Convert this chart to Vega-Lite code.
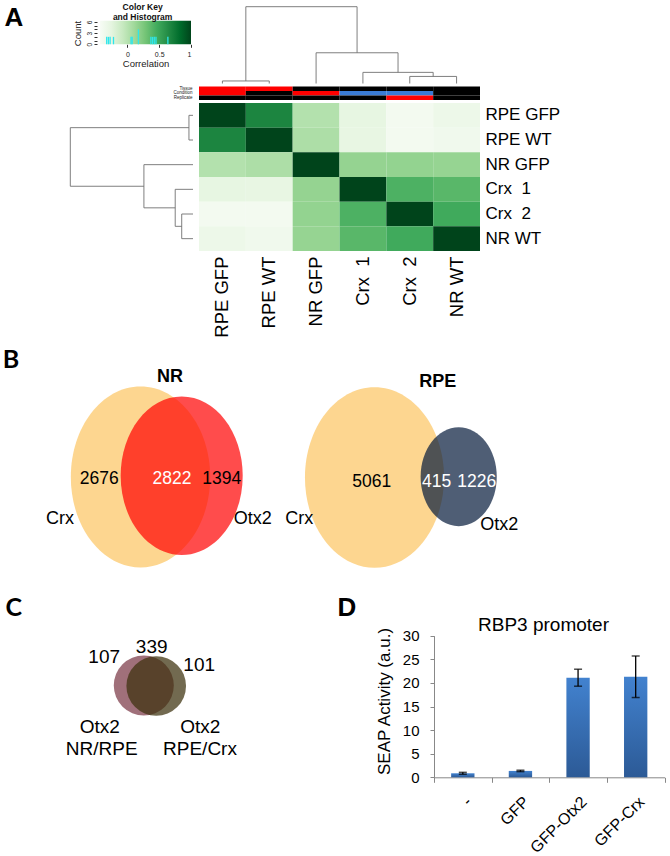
{
  "$schema": "https://vega.github.io/schema/vega-lite/v6.json",
  "width": 670,
  "height": 856,
  "autosize": "none",
  "padding": 0,
  "background": "white",
  "config": {
    "view": {"stroke": null},
    "font": "Liberation Sans",
    "axis": {"grid": false, "labelFont": "Liberation Sans", "titleFont": "Liberation Sans", "labelColor": "black", "titleColor": "black", "titleFontWeight": "normal"}
  },
  "datasets": {
    "heat": [
      {"s1":"RPE GFP","s2":"RPE GFP","corr":1},{"s1":"RPE GFP","s2":"RPE WT","corr":0.68},{"s1":"RPE GFP","s2":"NR GFP","corr":0.02},{"s1":"RPE GFP","s2":"Crx\u00a0\u00a01","corr":-0.27},{"s1":"RPE GFP","s2":"Crx\u00a0\u00a02","corr":-0.39},{"s1":"RPE GFP","s2":"NR WT","corr":-0.33},
      {"s1":"RPE WT","s2":"RPE GFP","corr":0.68},{"s1":"RPE WT","s2":"RPE WT","corr":1},{"s1":"RPE WT","s2":"NR GFP","corr":0.05},{"s1":"RPE WT","s2":"Crx\u00a0\u00a01","corr":-0.28},{"s1":"RPE WT","s2":"Crx\u00a0\u00a02","corr":-0.39},{"s1":"RPE WT","s2":"NR WT","corr":-0.36},
      {"s1":"NR GFP","s2":"RPE GFP","corr":0.02},{"s1":"NR GFP","s2":"RPE WT","corr":0.05},{"s1":"NR GFP","s2":"NR GFP","corr":1},{"s1":"NR GFP","s2":"Crx\u00a0\u00a01","corr":0.155},{"s1":"NR GFP","s2":"Crx\u00a0\u00a02","corr":0.16},{"s1":"NR GFP","s2":"NR WT","corr":0.15},
      {"s1":"Crx\u00a0\u00a01","s2":"RPE GFP","corr":-0.27},{"s1":"Crx\u00a0\u00a01","s2":"RPE WT","corr":-0.28},{"s1":"Crx\u00a0\u00a01","s2":"NR GFP","corr":0.155},{"s1":"Crx\u00a0\u00a01","s2":"Crx\u00a0\u00a01","corr":1},{"s1":"Crx\u00a0\u00a01","s2":"Crx\u00a0\u00a02","corr":0.42},{"s1":"Crx\u00a0\u00a01","s2":"NR WT","corr":0.38},
      {"s1":"Crx\u00a0\u00a02","s2":"RPE GFP","corr":-0.39},{"s1":"Crx\u00a0\u00a02","s2":"RPE WT","corr":-0.39},{"s1":"Crx\u00a0\u00a02","s2":"NR GFP","corr":0.16},{"s1":"Crx\u00a0\u00a02","s2":"Crx\u00a0\u00a01","corr":0.42},{"s1":"Crx\u00a0\u00a02","s2":"Crx\u00a0\u00a02","corr":1},{"s1":"Crx\u00a0\u00a02","s2":"NR WT","corr":0.47},
      {"s1":"NR WT","s2":"RPE GFP","corr":-0.33},{"s1":"NR WT","s2":"RPE WT","corr":-0.36},{"s1":"NR WT","s2":"NR GFP","corr":0.15},{"s1":"NR WT","s2":"Crx\u00a0\u00a01","corr":0.38},{"s1":"NR WT","s2":"Crx\u00a0\u00a02","corr":0.47},{"s1":"NR WT","s2":"NR WT","corr":1}
    ],
    "tracks": [
      {"sample":"RPE GFP","track":"Tissue","level":"RPE"},{"sample":"RPE WT","track":"Tissue","level":"RPE"},{"sample":"NR GFP","track":"Tissue","level":"NR"},{"sample":"Crx\u00a0\u00a01","track":"Tissue","level":"NR"},{"sample":"Crx\u00a0\u00a02","track":"Tissue","level":"NR"},{"sample":"NR WT","track":"Tissue","level":"NR"},
      {"sample":"RPE GFP","track":"Condition","level":"GFP"},{"sample":"RPE WT","track":"Condition","level":"WT"},{"sample":"NR GFP","track":"Condition","level":"GFP"},{"sample":"Crx\u00a0\u00a01","track":"Condition","level":"Crx"},{"sample":"Crx\u00a0\u00a02","track":"Condition","level":"Crx"},{"sample":"NR WT","track":"Condition","level":"WT"},
      {"sample":"RPE GFP","track":"Replicate","level":"rep1"},{"sample":"RPE WT","track":"Replicate","level":"rep1"},{"sample":"NR GFP","track":"Replicate","level":"rep1"},{"sample":"Crx\u00a0\u00a01","track":"Replicate","level":"rep1"},{"sample":"Crx\u00a0\u00a02","track":"Replicate","level":"rep2"},{"sample":"NR WT","track":"Replicate","level":"rep1"}
    ],
    "dendro": [
      {"pos":0,"pos2":0,"h":0,"h2":0.033},{"pos":1,"pos2":1,"h":0,"h2":0.033},{"pos":0,"pos2":1,"h":0.033,"h2":0.033},
      {"pos":4,"pos2":4,"h":0,"h2":0.092},{"pos":5,"pos2":5,"h":0,"h2":0.092},{"pos":4,"pos2":5,"h":0.092,"h2":0.092},
      {"pos":3,"pos2":3,"h":0,"h2":0.145},{"pos":4.5,"pos2":4.5,"h":0.092,"h2":0.145},{"pos":3,"pos2":4.5,"h":0.145,"h2":0.145},
      {"pos":2,"pos2":2,"h":0,"h2":0.4},{"pos":3.75,"pos2":3.75,"h":0.145,"h2":0.4},{"pos":2,"pos2":3.75,"h":0.4,"h2":0.4},
      {"pos":0.5,"pos2":0.5,"h":0.033,"h2":1},{"pos":2.875,"pos2":2.875,"h":0.4,"h2":1},{"pos":0.5,"pos2":2.875,"h":1,"h2":1}
    ],
    "keybox": [{"lo":-0.43,"hi":1,"n0":0,"n1":6.35}],
    "hist": [
      {"corr":-0.4,"n":2},{"corr":-0.37,"n":2},{"corr":-0.34,"n":2},{"corr":-0.28,"n":2},{"corr":0.03,"n":2},{"corr":0.05,"n":2},{"corr":0.16,"n":4},{"corr":0.38,"n":2},{"corr":0.41,"n":2},{"corr":0.44,"n":2},{"corr":0.47,"n":2},{"corr":0.68,"n":2}
    ],
    "keytitle": [{"t":"Color Key","corr":0.24,"n":10.0},{"t":"and Histogram","corr":0.24,"n":7.3}],
    "vennB": [
      {"set":"Crx NR","count":5498,"bx":0.2702,"by":0.5654},
      {"set":"Otx2 NR","count":4216,"bx":0.3494,"by":0.5608},
      {"set":"Crx RPE","count":5476,"bx":0.7202,"by":0.5673},
      {"set":"Otx2 RPE","count":1641,"bx":0.8821,"by":0.5642}
    ],
    "textB": [
      {"label":"2676","bx":0.191,"by":0.574,"tone":"onLight"},
      {"label":"2822","bx":0.3308,"by":0.574,"tone":"onDark"},
      {"label":"1394","bx":0.4263,"by":0.574,"tone":"onLight"},
      {"label":"5061","bx":0.7148,"by":0.5858,"tone":"onLight"},
      {"label":"415","bx":0.8398,"by":0.5858,"tone":"onDark"},
      {"label":"1226","bx":0.9167,"by":0.5858,"tone":"onDark"}
    ],
    "namesB": [
      {"label":"Crx","bx":0.1154,"by":0.727},
      {"label":"Otx2","bx":0.486,"by":0.727},
      {"label":"Crx","bx":0.5756,"by":0.727},
      {"label":"Otx2","bx":0.9602,"by":0.749}
    ],
    "titleB": [{"label":"NR","bx":0.3269,"by":0.1796},{"label":"RPE","bx":0.8417,"by":0.1988}],
    "vennC": [
      {"set":"Otx2 NR/RPE","count":446,"cx":0.4793,"cy":0.359},
      {"set":"Otx2 RPE/Crx","count":440,"cx":0.5207,"cy":0.3609}
    ],
    "textC": [
      {"label":"107","cx":0.3473,"cy":0.2531},
      {"label":"339","cx":0.5057,"cy":0.213},
      {"label":"101","cx":0.664,"cy":0.282},
      {"label":"Otx2","cx":0.3323,"cy":0.5139},
      {"label":"NR/RPE","cx":0.339,"cy":0.5977},
      {"label":"Otx2","cx":0.6677,"cy":0.5139},
      {"label":"RPE/Crx","cx":0.6667,"cy":0.5977}
    ],
    "seap": [
      {"treat":"-","mean":0.85,"lo":0.65,"hi":1.05},
      {"treat":"GFP","mean":1.35,"lo":1.2,"hi":1.5},
      {"treat":"GFP-Otx2","mean":21.1,"lo":19.3,"hi":22.9},
      {"treat":"GFP-Crx","mean":21.3,"lo":16.9,"hi":25.7}
    ],
    "lettersA": [{"letter":"A","fx":0.0206,"fy":0.0214},{"letter":"D","fx":0.5179,"fy":0.7097}],
    "lettersB": [{"letter":"B","fx":0.0164,"fy":0.4211},{"letter":"C","fx":0.0204,"fy":0.7103}]
  },
  "layer": [
    {
      "data": {"name": "keybox"},
      "mark": {"type": "rect", "fill": {"gradient": "linear", "x1": 0, "y1": 0, "x2": 1, "y2": 0, "stops": [{"offset":0,"color":"#f7fcf5"},{"offset":0.125,"color":"#e5f5e0"},{"offset":0.25,"color":"#c7e9c0"},{"offset":0.375,"color":"#a1d99b"},{"offset":0.5,"color":"#74c476"},{"offset":0.625,"color":"#41ab5d"},{"offset":0.75,"color":"#238b45"},{"offset":0.875,"color":"#006d2c"},{"offset":1,"color":"#00441b"}]}},
      "encoding": {
        "x": {"field": "lo", "type": "quantitative", "scale": {"domain": [-0.43, 1], "range": [100, 191], "nice": false, "zero": false},
              "axis": {"orient": "bottom", "offset": -811.7, "values": [0, 0.5, 1], "format": "~g", "tickSize": 3, "labelFontSize": 7, "labelPadding": 3, "domain": false, "tickColor": "#333", "labelColor": "#222", "title": "Correlation", "titleFontSize": 9.5, "titleY": 19, "titleBaseline": "middle", "titleColor": "#222"}},
        "x2": {"field": "hi"},
        "y": {"field": "n0", "type": "quantitative", "scale": {"domain": [0, 6.35], "range": [44.3, 20.7], "nice": false, "zero": false},
              "axis": {"orient": "left", "offset": -97, "values": [0,1,2,3,4,5,6], "labelExpr": "datum.value % 3 === 0 ? datum.label : ''", "labelAngle": -90, "tickSize": 3, "labelFontSize": 6.5, "labelPadding": 2, "domain": false, "tickColor": "#333", "labelColor": "#222", "title": "Count", "titleFontSize": 9.5, "titleX": -20, "titleY": 33, "titleBaseline": "middle", "titleAlign": "center", "titleColor": "#222"}},
        "y2": {"field": "n1"}
      }
    },
    {
      "data": {"name": "hist"},
      "mark": {"type": "bar", "color": "#2ee6ec", "width": 1.3},
      "encoding": {
        "x": {"field": "corr", "type": "quantitative", "scale": {"domain": [-0.43, 1], "range": [100, 191], "nice": false, "zero": false}, "axis": null},
        "y": {"field": "n", "type": "quantitative", "scale": {"domain": [0, 6.35], "range": [44.3, 20.7], "nice": false, "zero": true}, "axis": null}
      }
    },
    {
      "data": {"name": "keytitle"},
      "mark": {"type": "text", "fontWeight": "bold", "fontSize": 8.5, "align": "center", "baseline": "middle", "color": "#111"},
      "encoding": {
        "x": {"field": "corr", "type": "quantitative", "scale": {"domain": [-0.43, 1], "range": [100, 191], "nice": false, "zero": false}, "axis": null},
        "y": {"field": "n", "type": "quantitative", "scale": {"domain": [0, 6.35], "range": [44.3, 20.7], "nice": false, "zero": false}, "axis": null},
        "text": {"field": "t"}
      }
    },
    {
      "data": {"name": "dendro"},
      "mark": {"type": "rule", "color": "#707070", "strokeWidth": 0.9},
      "encoding": {
        "x": {"field": "pos", "type": "quantitative", "scale": {"domain": [-0.5, 5.5], "range": [199, 480], "nice": false, "zero": false}, "axis": null},
        "x2": {"field": "pos2"},
        "y": {"field": "h", "type": "quantitative", "scale": {"domain": [0, 1], "range": [83.5, 6.7], "nice": false, "zero": false}, "axis": null},
        "y2": {"field": "h2"}
      }
    },
    {
      "data": {"name": "dendro"},
      "mark": {"type": "rule", "color": "#707070", "strokeWidth": 0.9},
      "encoding": {
        "y": {"field": "pos", "type": "quantitative", "scale": {"domain": [-0.5, 5.5], "range": [103, 251], "nice": false, "zero": false}, "axis": null},
        "y2": {"field": "pos2"},
        "x": {"field": "h", "type": "quantitative", "scale": {"domain": [0, 1], "range": [193, 70.3], "nice": false, "zero": false}, "axis": null},
        "x2": {"field": "h2"}
      }
    },
    {
      "data": {"name": "tracks"},
      "mark": {"type": "rect"},
      "encoding": {
        "x": {"field": "sample", "type": "nominal", "sort": null, "scale": {"type": "band", "domain": ["RPE GFP","RPE WT","NR GFP","Crx\u00a0\u00a01","Crx\u00a0\u00a02","NR WT"], "range": [199, 480], "paddingInner": 0, "paddingOuter": 0}, "axis": null},
        "y": {"field": "track", "type": "nominal", "sort": null, "scale": {"type": "band", "domain": ["Tissue","Condition","Replicate"], "range": [86.5, 100], "paddingInner": 0, "paddingOuter": 0},
              "axis": {"orient": "left", "offset": -193, "title": null, "domain": false, "ticks": false, "labelFontSize": 4.5, "labelPadding": 1, "labelColor": "#222"}},
        "color": {"field": "level", "type": "nominal", "scale": {"domain": ["RPE","NR","GFP","WT","Crx","rep1","rep2"], "range": ["#ff0000","#000000","#ff0000","#000000","#3a7bd5","#000000","#ff0000"]}, "legend": null}
      }
    },
    {
      "data": {"name": "heat"},
      "mark": {"type": "rect"},
      "encoding": {
        "x": {"field": "s2", "type": "nominal", "sort": null, "scale": {"type": "band", "domain": ["RPE GFP","RPE WT","NR GFP","Crx\u00a0\u00a01","Crx\u00a0\u00a02","NR WT"], "range": [199, 480], "paddingInner": 0, "paddingOuter": 0},
              "axis": {"orient": "bottom", "offset": -604, "labelAngle": -90, "labelFontSize": 18.5, "labelPadding": 4, "domain": false, "ticks": false, "title": null, "labelLimit": 0}},
        "y": {"field": "s1", "type": "nominal", "sort": null, "scale": {"type": "band", "domain": ["RPE GFP","RPE WT","NR GFP","Crx\u00a0\u00a01","Crx\u00a0\u00a02","NR WT"], "range": [103, 251], "paddingInner": 0, "paddingOuter": 0},
              "axis": {"orient": "right", "offset": -188, "labelFontSize": 17, "labelPadding": 3, "domain": false, "ticks": false, "title": null, "labelLimit": 0}},
        "color": {"field": "corr", "type": "quantitative", "scale": {"domain": [-0.43, 1], "range": ["#f7fcf5","#e5f5e0","#c7e9c0","#a1d99b","#74c476","#41ab5d","#238b45","#006d2c","#00441b"], "interpolate": "rgb"}, "legend": null}
      }
    },
    {
      "data": {"name": "vennB"},
      "mark": {"type": "point", "filled": true, "opacity": 1, "strokeWidth": 0, "shape": "M-0.77,0A0.77,1,0,1,1,0.77,0A0.77,1,0,1,1,-0.77,0Z"},
      "encoding": {
        "x": {"field": "bx", "type": "quantitative", "scale": {"domain": [0, 1], "range": [0, 520], "nice": false, "zero": false}, "axis": null},
        "y": {"field": "by", "type": "quantitative", "scale": {"domain": [0, 1], "range": [330, 590], "nice": false, "zero": false}, "axis": null},
        "size": {"field": "count", "type": "quantitative", "scale": {"domain": [0, 5500], "range": [0, 32775], "zero": true}, "legend": null},
        "color": {"field": "set", "type": "nominal", "sort": null, "scale": {"domain": ["Crx NR","Otx2 NR","Crx RPE","Otx2 RPE"], "range": ["#fdd690","rgba(255,0,0,0.7)","#fdd690","rgba(4,25,58,0.7)"]}, "legend": null}
      }
    },
    {
      "data": {"name": "textB"},
      "mark": {"type": "text", "font": "Liberation Sans", "fontSize": 17.5, "align": "center", "baseline": "middle"},
      "encoding": {
        "x": {"field": "bx", "type": "quantitative", "scale": {"domain": [0, 1], "range": [0, 520], "nice": false, "zero": false}, "axis": null},
        "y": {"field": "by", "type": "quantitative", "scale": {"domain": [0, 1], "range": [330, 590], "nice": false, "zero": false}, "axis": null},
        "text": {"field": "label"},
        "color": {"field": "tone", "type": "nominal", "scale": {"domain": ["onLight","onDark"], "range": ["#000000","#ffffff"]}, "legend": null}
      }
    },
    {
      "data": {"name": "namesB"},
      "mark": {"type": "text", "font": "Liberation Sans", "fontSize": 18, "align": "center", "baseline": "middle", "color": "#000000"},
      "encoding": {
        "x": {"field": "bx", "type": "quantitative", "scale": {"domain": [0, 1], "range": [0, 520], "nice": false, "zero": false}, "axis": null},
        "y": {"field": "by", "type": "quantitative", "scale": {"domain": [0, 1], "range": [330, 590], "nice": false, "zero": false}, "axis": null},
        "text": {"field": "label"}
      }
    },
    {
      "data": {"name": "titleB"},
      "mark": {"type": "text", "font": "Liberation Sans", "fontWeight": "bold", "fontSize": 18, "align": "center", "baseline": "middle", "color": "#000000"},
      "encoding": {
        "x": {"field": "bx", "type": "quantitative", "scale": {"domain": [0, 1], "range": [0, 520], "nice": false, "zero": false}, "axis": null},
        "y": {"field": "by", "type": "quantitative", "scale": {"domain": [0, 1], "range": [330, 590], "nice": false, "zero": false}, "axis": null},
        "text": {"field": "label"}
      }
    },
    {
      "data": {"name": "vennC"},
      "mark": {"type": "point", "filled": true, "opacity": 1, "strokeWidth": 0, "shape": "circle"},
      "encoding": {
        "x": {"field": "cx", "type": "quantitative", "scale": {"domain": [0, 1], "range": [0, 300], "nice": false, "zero": false}, "axis": null},
        "y": {"field": "cy", "type": "quantitative", "scale": {"domain": [0, 1], "range": [590, 856], "nice": false, "zero": false}, "axis": null},
        "size": {"field": "count", "type": "quantitative", "scale": {"domain": [0, 446], "range": [0, 3600], "zero": true}, "legend": null},
        "color": {"field": "set", "type": "nominal", "sort": null, "scale": {"domain": ["Otx2 NR/RPE","Otx2 RPE/Crx"], "range": ["#a0707a","rgba(60,48,12,0.72)"]}, "legend": null}
      }
    },
    {
      "data": {"name": "textC"},
      "mark": {"type": "text", "fontSize": 19, "align": "center", "baseline": "middle", "color": "#000000"},
      "encoding": {
        "x": {"field": "cx", "type": "quantitative", "scale": {"domain": [0, 1], "range": [0, 300], "nice": false, "zero": false}, "axis": null},
        "y": {"field": "cy", "type": "quantitative", "scale": {"domain": [0, 1], "range": [590, 856], "nice": false, "zero": false}, "axis": null},
        "text": {"field": "label"}
      }
    },
    {
      "data": {"name": "seap"},
      "mark": {"type": "bar", "width": {"band": 0.405}, "fill": {"gradient": "linear", "x1": 0, "y1": 0, "x2": 0, "y2": 1, "stops": [{"offset": 0, "color": "#4282cf"}, {"offset": 1, "color": "#2c5a96"}]}},
      "encoding": {
        "x": {"field": "treat", "type": "nominal", "sort": null, "scale": {"type": "band", "domain": ["-","GFP","GFP-Otx2","GFP-Crx"], "range": [434, 664.5], "paddingInner": 0, "paddingOuter": 0},
              "axis": {"orient": "bottom", "offset": -78.7, "labelAngle": -45, "labelFontSize": 16, "labelPadding": 11, "tickBand": "extent", "tickSize": 5, "tickColor": "#888888", "domainColor": "#888888", "labelLimit": 0,
                       "title": "RBP3 promoter", "titleFontSize": 19, "titleX": 543, "titleY": -146.6, "titleBaseline": "alphabetic", "titleAlign": "center", "titleAngle": 0}},
        "y": {"field": "mean", "type": "quantitative", "scale": {"domain": [0, 30], "range": [777.3, 635.7], "nice": false, "zero": true},
              "axis": {"orient": "left", "offset": -434, "values": [0,5,10,15,20,25,30], "labelFontSize": 15, "labelPadding": 11, "tickSize": 4, "tickColor": "#888888", "domainColor": "#888888",
                       "title": "SEAP Activity (a.u.)", "titleFontSize": 17, "titleX": -50, "titleY": 701, "titleBaseline": "middle", "titleAlign": "center"}}
      }
    },
    {
      "data": {"name": "seap"},
      "mark": {"type": "rule", "color": "black", "strokeWidth": 1.3},
      "encoding": {
        "x": {"field": "treat", "type": "nominal", "sort": null, "scale": {"type": "band", "domain": ["-","GFP","GFP-Otx2","GFP-Crx"], "range": [434, 664.5], "paddingInner": 0, "paddingOuter": 0}, "axis": null},
        "y": {"field": "lo", "type": "quantitative", "scale": {"domain": [0, 30], "range": [777.3, 635.7], "nice": false, "zero": true}, "axis": null},
        "y2": {"field": "hi"}
      }
    },
    {
      "data": {"name": "seap"},
      "mark": {"type": "tick", "color": "black", "thickness": 1.5, "size": 8, "orient": "horizontal"},
      "encoding": {
        "x": {"field": "treat", "type": "nominal", "sort": null, "scale": {"type": "band", "domain": ["-","GFP","GFP-Otx2","GFP-Crx"], "range": [434, 664.5], "paddingInner": 0, "paddingOuter": 0}, "axis": null},
        "y": {"field": "lo", "type": "quantitative", "scale": {"domain": [0, 30], "range": [777.3, 635.7], "nice": false, "zero": true}, "axis": null}
      }
    },
    {
      "data": {"name": "seap"},
      "mark": {"type": "tick", "color": "black", "thickness": 1.5, "size": 8, "orient": "horizontal"},
      "encoding": {
        "x": {"field": "treat", "type": "nominal", "sort": null, "scale": {"type": "band", "domain": ["-","GFP","GFP-Otx2","GFP-Crx"], "range": [434, 664.5], "paddingInner": 0, "paddingOuter": 0}, "axis": null},
        "y": {"field": "hi", "type": "quantitative", "scale": {"domain": [0, 30], "range": [777.3, 635.7], "nice": false, "zero": true}, "axis": null}
      }
    },
    {
      "data": {"name": "lettersA"},
      "mark": {"type": "text", "fontWeight": "bold", "fontSize": 26, "align": "center", "baseline": "middle", "color": "#000000"},
      "encoding": {
        "x": {"field": "fx", "type": "quantitative", "scale": {"domain": [0, 1], "range": [0, 670], "nice": false, "zero": false}, "axis": null},
        "y": {"field": "fy", "type": "quantitative", "scale": {"domain": [0, 1], "range": [0, 856], "nice": false, "zero": false}, "axis": null},
        "text": {"field": "letter"}
      }
    },
    {
      "data": {"name": "lettersB"},
      "mark": {"type": "text", "font": "Lato", "fontWeight": "bold", "fontSize": 25, "align": "center", "baseline": "middle", "color": "#000000"},
      "encoding": {
        "x": {"field": "fx", "type": "quantitative", "scale": {"domain": [0, 1], "range": [0, 670], "nice": false, "zero": false}, "axis": null},
        "y": {"field": "fy", "type": "quantitative", "scale": {"domain": [0, 1], "range": [0, 856], "nice": false, "zero": false}, "axis": null},
        "text": {"field": "letter"}
      }
    }
  ],
  "resolve": {
    "scale": {"x": "independent", "y": "independent", "color": "independent", "size": "independent"},
    "axis": {"x": "independent", "y": "independent"},
    "legend": {"color": "independent", "size": "independent"}
  }
}
